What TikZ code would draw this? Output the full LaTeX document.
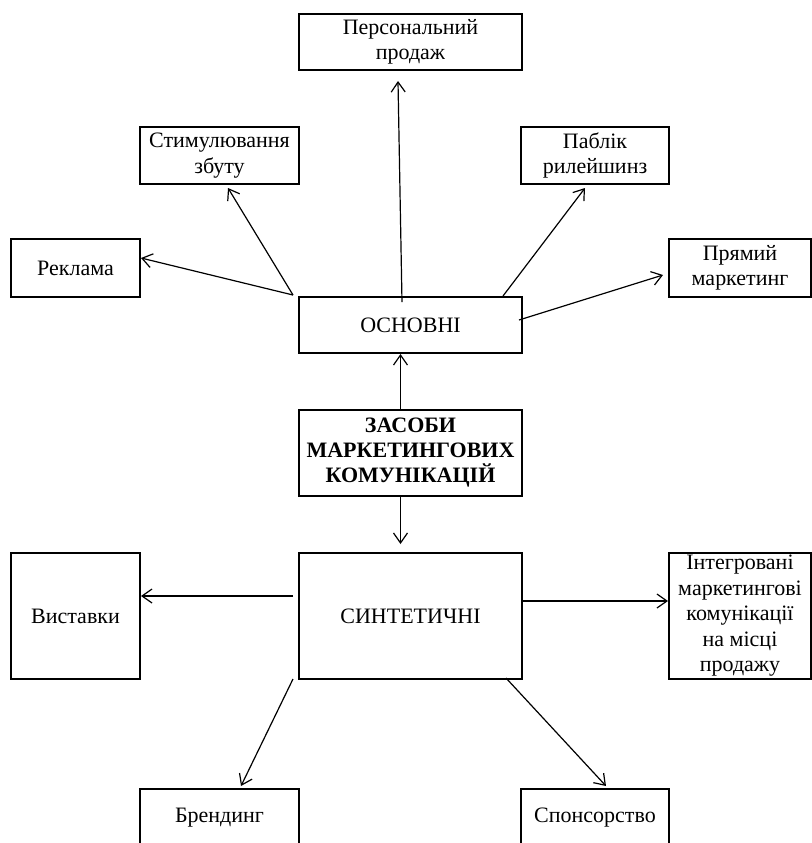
\documentclass[tikz,border=0pt]{standalone}
\usepackage{fontspec}
\setmainfont{Liberation Serif}
\usetikzlibrary{arrows.meta,calc}
\begin{document}
\fontsize{11}{12.75}\selectfont
\begin{tikzpicture}[x=.5pt,y=-.5pt,
	box/.style={draw,line width=1pt,inner sep=0pt,align=center,font=\fontsize{11}{12.75}\selectfont},
	arr/.style={line width=.6pt,-{Straight Barb[length=5pt,width=7pt]}}]
		\useasboundingbox (0,0) rectangle (812,843);
		\clip (0,0) rectangle (812,843);
		
		\node[box,minimum width=111.5pt,minimum height=28pt] (pers) at (410.5,42) {Персональний\\продаж};
		\node[box,minimum width=79.5pt,minimum height=28.5pt] (stim) at (219.5,155.5) {Стимулювання\\збуту};
		\node[box,minimum width=74pt,minimum height=28.5pt] (pab) at (595,155.5) {Паблік\\рилейшинз};
		\node[box,minimum width=64.5pt,minimum height=29pt] (rek) at (75.5,268) {Реклама};
		\node[box,minimum width=71pt,minimum height=29pt] (pryam) at (740,268) {Прямий\\маркетинг};
		\node[box,minimum width=111.5pt,minimum height=28pt] (osn) at (410.5,325) {ОСНОВНІ};
		
		\node[box,minimum width=111.5pt,minimum height=43pt,font=\fontsize{11}{12.5}\selectfont\bfseries] (zas) at (410.5,453) {ЗАСОБИ\\МАРКЕТИНГОВИХ\\КОМУНІКАЦІЙ};
		
		\node[box,minimum width=111.5pt,minimum height=63pt] (syn) at (410.5,616) {СИНТЕТИЧНІ};
		\node[box,minimum width=64.5pt,minimum height=63pt] (vys) at (75.5,616) {Виставки};
		\node[box,minimum width=71pt,minimum height=63pt] (int) at (740,616) {Інтегровані\\маркетингові\\комунікації\\на місці\\продажу};
		\node[box,minimum width=79.5pt,minimum height=29pt] (brend) at (219.5,818) {Брендинг};
		\node[box,minimum width=74pt,minimum height=29pt] (spon) at (595,818) {Спонсорство};
		
		\draw[arr] ($(zas.north)+(-10,0)$) -- ($(osn.south)+(-10,0)$);
		\draw[arr] ($(zas.south)+(-10,0)$) -- ($(syn.north)+(-10,-8)$);
		
		\draw[arr] ($(osn.north)+(-8.5,6)$) -- ($(pers.south)+(-12.5,10)$);
		\draw[arr] ($(osn.north west)+(-5,-1)$) -- ($(rek.east)+(0,-10)$);
		\draw[arr] ($(osn.north west)+(-5,-1)$) -- ($(stim.south)+(8.5,3)$);
		\draw[arr] ($(osn.north east)+(-20,0)$) -- ($(pab.south)+(-10,3)$);
		\draw[arr] ($(osn.east)+(-4,-5)$) -- ($(pryam.west)+(-5,7)$);
		
		\draw[arr] ($(syn.west)+(-5,-20)$) -- ($(vys.east)+(0,-20)$);
		\draw[arr] ($(syn.east)+(0,-15)$) -- ($(int.west)+(0,-15)$);
		\draw[arr] ($(syn.south west)+(-5,-1)$) -- ($(brend.north)+(21.5,-2)$);
		\draw[arr] ($(syn.south east)+(-17,-2)$) -- ($(spon.north)+(11,-2)$);
		\end{tikzpicture}
\end{document}
